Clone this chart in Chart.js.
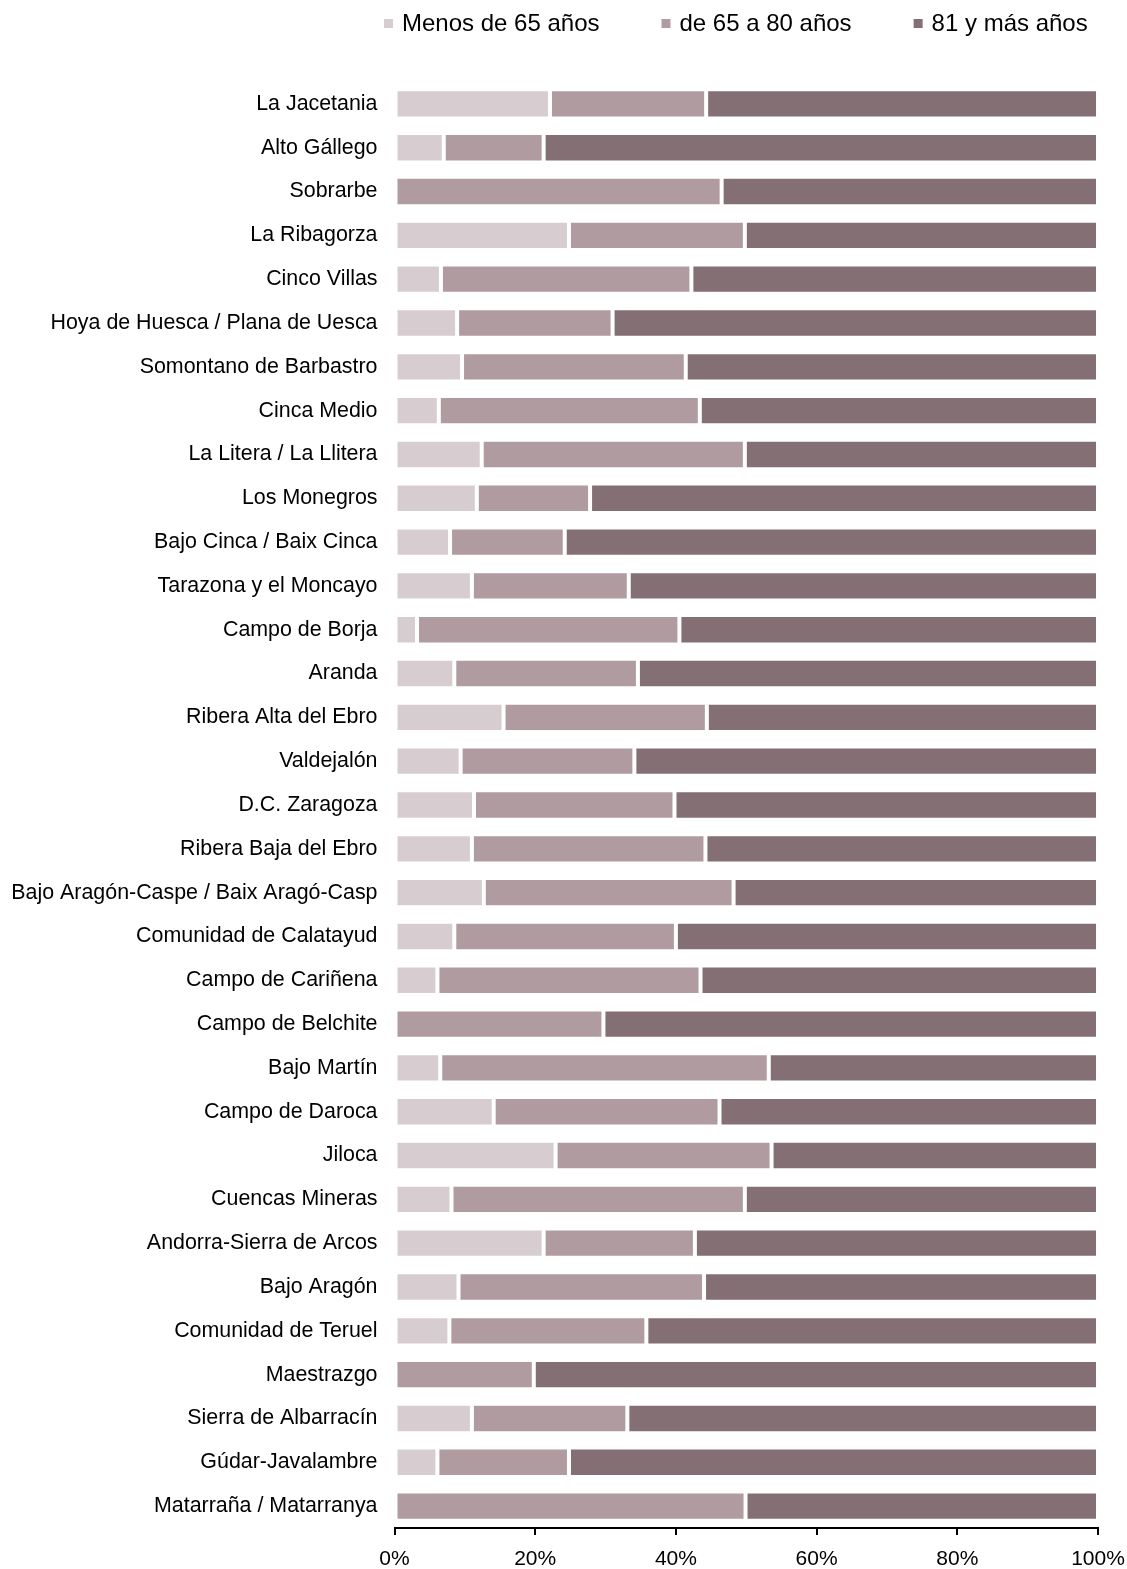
<!DOCTYPE html>
<html>
<head>
<meta charset="utf-8">
<script src="https://cdn.jsdelivr.net/npm/chart.js@4/dist/chart.umd.min.js"></script>
<style>
  body { margin: 0; background: #fff; }
  #wrap { width: 1127px; height: 1569px; position: relative; }
</style>
</head>
<body>
<div id="wrap"><canvas id="myChart"></canvas></div>
<script>
const comarcas = [
  "La Jacetania", "Alto Gállego", "Sobrarbe", "La Ribagorza", "Cinco Villas",
  "Hoya de Huesca / Plana de Uesca", "Somontano de Barbastro", "Cinca Medio",
  "La Litera / La Llitera", "Los Monegros", "Bajo Cinca / Baix Cinca",
  "Tarazona y el Moncayo", "Campo de Borja", "Aranda", "Ribera Alta del Ebro",
  "Valdejalón", "D.C. Zaragoza", "Ribera Baja del Ebro",
  "Bajo Aragón-Caspe / Baix Aragó-Casp", "Comunidad de Calatayud",
  "Campo de Cariñena", "Campo de Belchite", "Bajo Martín", "Campo de Daroca",
  "Jiloca", "Cuencas Mineras", "Andorra-Sierra de Arcos", "Bajo Aragón",
  "Comunidad de Teruel", "Maestrazgo", "Sierra de Albarracín",
  "Gúdar-Javalambre", "Matarraña / Matarranya"
];

const seriesNames = ["Menos de 65 años", "de 65 a 80 años", "81 y más años"];
const seriesColors = ["#d7cdd1", "#b09ba0", "#846f75"];

const menos65 = [22.1, 7.0, 0, 24.8, 6.6, 8.9, 9.6, 6.3, 12.4, 11.7, 7.9,
  11.0, 3.2, 8.5, 15.5, 9.4, 11.3, 11.0, 12.7, 8.5, 6.1, 0, 6.5, 14.1,
  22.9, 8.1, 21.2, 9.1, 7.8, 0, 11.0, 6.1, 0];
const de65a80 = [22.2, 14.2, 46.5, 25.0, 35.6, 22.1, 31.8, 37.1, 37.4, 16.1, 16.3,
  22.3, 37.3, 26.1, 28.9, 24.7, 28.5, 33.2, 35.5, 31.5, 37.4, 29.7, 46.7, 32.1,
  30.7, 41.7, 21.5, 34.9, 28.0, 19.8, 22.1, 18.7, 49.9];
const mas81 = [55.7, 78.8, 53.5, 50.2, 57.8, 69.0, 58.6, 56.6, 50.2, 72.2, 75.8,
  66.7, 59.5, 65.4, 55.6, 65.9, 60.2, 55.8, 51.8, 60.0, 56.5, 70.3, 46.8, 53.8,
  46.4, 50.2, 57.3, 56.0, 64.2, 80.2, 66.9, 75.2, 50.1];

const xTicks = [0, 20, 40, 60, 80, 100];

const FONT = "'Liberation Sans', Arial, sans-serif";

// legend drawn at the top, items spaced like the original
const topLegend = {
  id: "topLegend",
  afterDraw(chart) {
    const ctx = chart.ctx;
    ctx.save();
    ctx.font = "24px " + FONT;
    ctx.textBaseline = "middle";
    let x = 384;
    const y = 24;
    chart.data.datasets.forEach((ds) => {
      ctx.fillStyle = ds.backgroundColor;
      ctx.fillRect(x, y - 5, 9, 9);
      ctx.fillStyle = "#000";
      ctx.fillText(ds.label, x + 18, y);
      x += 18 + ctx.measureText(ds.label).width + 62;
    });
    ctx.restore();
  }
};

const makeSet = (i, data) => ({
  label: seriesNames[i],
  data: data,
  backgroundColor: seriesColors[i],
  borderColor: "#ffffff",
  borderWidth: 2,
  borderSkipped: false,
  barPercentage: 0.67,
  categoryPercentage: 1.0
});

new Chart(document.getElementById("myChart"), {
  type: "bar",
  data: {
    labels: comarcas,
    datasets: [makeSet(0, menos65), makeSet(1, de65a80), makeSet(2, mas81)]
  },
  options: {
    indexAxis: "y",
    responsive: true,
    maintainAspectRatio: false,
    animation: false,
    layout: { padding: { top: 82, left: 12, right: 0, bottom: 0 } },
    plugins: {
      legend: { display: false },
      tooltip: { enabled: false }
    },
    scales: {
      x: {
        stacked: true,
        min: 0,
        max: 100,
        afterBuildTicks: (scale) => { scale.ticks = xTicks.map(v => ({ value: v })); },
        afterFit: (scale) => { scale.paddingRight = 29; scale.height = 41; },
        grid: { drawOnChartArea: false, drawTicks: true, tickLength: 7, color: "#000", lineWidth: 2 },
        border: { display: true, color: "#000", width: 2 },
        ticks: {
          color: "#000",
          font: { family: FONT, size: 21, lineHeight: 1 },
          padding: 14,
          maxRotation: 0,
          callback: (v) => v + "%"
        }
      },
      y: {
        stacked: true,
        grid: { display: false, drawTicks: false },
        border: { display: false },
        afterFit: (scale) => { scale.width = 382.5; },
        ticks: {
          color: "#000",
          font: { family: FONT, size: 21.4 },
          padding: 17,
          autoSkip: false
        }
      }
    }
  },
  plugins: [topLegend]
});
</script>
</body>
</html>
